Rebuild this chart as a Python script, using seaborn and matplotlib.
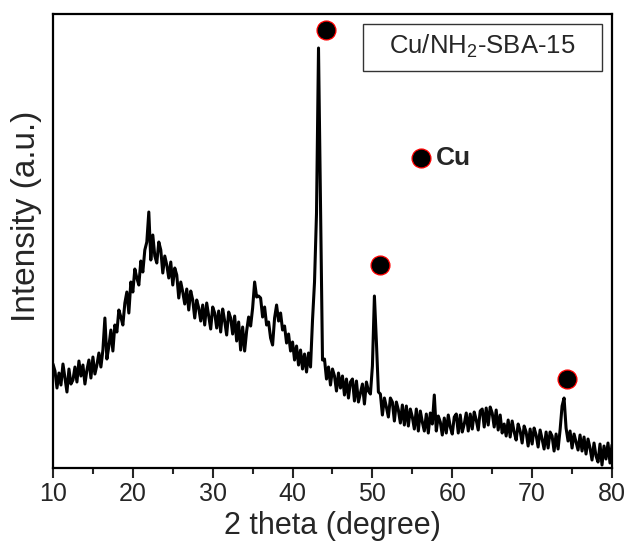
import numpy as np
import matplotlib
matplotlib.use("Agg")
import matplotlib.pyplot as plt
from matplotlib.ticker import MultipleLocator
from matplotlib.patches import Rectangle
import seaborn as sns

# XRD pattern of Cu/NH2-SBA-15, every 0.25 degree (10 -> 80)
intensity = [
    104, 97, 80, 95,   83, 104, 90, 76,   99, 84, 88, 101,  86, 107, 92, 103,     # 10-13
    84, 98, 108, 90,   111, 94, 103, 115, 101, 118, 150, 109, 122, 138, 117, 143,  # 14-17
    136, 158, 151, 143, 165, 176, 155, 186, 176, 199, 190, 183, 207, 196, 218, 226,  # 18-21
    256, 208, 233, 212, 205, 226, 218, 195, 212, 203, 190, 206, 183, 200, 193, 170,  # 22-25
    186, 176, 164, 179, 158, 177, 168, 150, 168, 160, 147, 163, 143, 165, 152, 139,  # 26-29
    161, 155, 140, 157, 136, 159, 147, 133, 156, 150, 134, 152, 127, 146, 118, 141,  # 30-33
    117, 137, 151, 142, 160, 186, 171, 172, 170, 151, 161, 143, 146, 130, 123, 150,  # 34-37
    163, 147, 155, 138, 142, 125, 134, 117, 126, 108, 122, 103, 118, 99, 114, 96,    # 38-41
    115, 101, 148, 186, 255, 420, 268, 108, 109, 89, 101, 83,  99, 92, 77, 95,       # 42-45
    80, 92, 73, 89,    70, 86, 89, 67,    87, 66, 75, 84,    64, 86, 77, 74,        # 46-49
    102, 172, 126, 76, 74, 53, 70, 61,    51, 70, 66, 47,    66, 58, 45, 63,        # 50-53
    43, 62, 42, 59,    51, 39, 59, 37,    57, 46, 37, 54,    35, 55, 44, 73,        # 54-57
    37, 52, 46, 33,    50, 35, 53, 41,    34, 51, 54, 35,    53, 36, 44, 55,        # 58-61
    37, 54, 39, 56,    48, 38, 57, 59,    41, 60, 43, 61,    55, 41, 58, 38,        # 62-65
    53, 35, 44, 32,    48, 31, 47, 36,    28, 44, 37, 25,    42, 36, 22, 39,        # 66-69
    24, 40, 33, 21,    38, 29, 19, 36,    20, 36, 32, 17,    34, 19, 38, 62,        # 70-73
    70, 40, 27, 37,    20, 34, 26, 18,    33, 17, 31, 14,    29, 20, 8, 25,         # 74-77
    12, 6, 24, 3,      22, 9, 25, 5,      23,                                      # 78-80
]
two_theta = np.linspace(10, 80, len(intensity))

# Cu reflections (marker positions) and the key marker
cu_peaks_x = [44.17, 50.93, 74.33]
cu_peaks_y = [438, 203, 89]
key_x = [56.06]
key_y = [310]

sns.set_style("ticks")
plt.rcParams['font.family'] = ['Liberation Sans', 'DejaVu Sans']
plt.rcParams['mathtext.default'] = 'regular'

fig = plt.figure(figsize=(6.3, 5.49), dpi=100)
ax = fig.add_axes([0.0841, 0.1475, 0.8873, 0.827])

sns.lineplot(x=two_theta, y=intensity, ax=ax, color='black', linewidth=2.2)
sns.scatterplot(x=cu_peaks_x + key_x, y=cu_peaks_y + key_y, ax=ax, s=185,
                color='black', edgecolor='red', linewidth=0.9, zorder=5)
ax.text(58.0, 310, 'Cu', fontsize=19, fontweight='bold', va='center', ha='left')

# sample label box
ax.add_patch(Rectangle((0.555, 0.874), 0.427, 0.104, transform=ax.transAxes,
                       fill=False, edgecolor='#333333', linewidth=1.0))
ax.text(0.768, 0.928, 'Cu/NH$_2$-SBA-15', transform=ax.transAxes,
        fontsize=18.5, ha='center', va='center')

ax.set_xlim(10, 80)
ax.set_ylim(0, 454)
ax.set_yticks([])
ax.xaxis.set_major_locator(MultipleLocator(10))
ax.xaxis.set_minor_locator(MultipleLocator(5))
ax.tick_params(axis='x', which='major', direction='out', length=7, width=1.5,
               labelsize=18, pad=3)
ax.tick_params(axis='x', which='minor', direction='out', length=4, width=1.5)
for sp in ax.spines.values():
    sp.set_linewidth(1.6)
    sp.set_color('black')

ax.set_xlabel('2 theta (degree)', fontsize=22, labelpad=4)
ax.set_ylabel('Intensity (a.u.)', fontsize=24)
ax.yaxis.set_label_coords(-0.02, 0.555)

fig.savefig('out.png', dpi=100)
